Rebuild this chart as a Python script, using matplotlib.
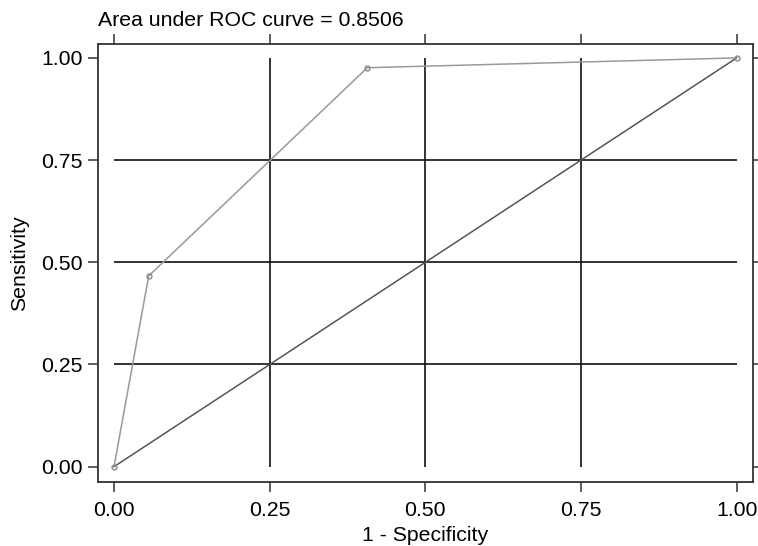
import matplotlib.pyplot as plt
import numpy as np

plt.rcParams['font.family'] = ['Liberation Sans', 'DejaVu Sans']

# ROC points
fpr = [0.0, 0.0557, 0.4068, 1.0]
tpr = [0.0, 0.4666, 0.976, 1.0]
auc = 0.8506

ticks = [0.0, 0.25, 0.5, 0.75, 1.0]
tick_labels = ['0.00', '0.25', '0.50', '0.75', '1.00']
grid_at = [0.25, 0.5, 0.75]

frame_col = '#333333'
fs = 15.3

fig = plt.figure(figsize=(7.58, 5.46), dpi=100)
ax = fig.add_axes([0.1293, 0.1178, 0.8637, 0.8016])

ax.set_xlim(-0.0257, 1.0257)
ax.set_ylim(-0.0367, 1.034)

# reference grid, only over the data range
ax.hlines(grid_at, 0, 1, color='#111111', lw=1.2, zorder=1)
ax.vlines(grid_at, 0, 1, color='#111111', lw=1.2, zorder=1)

# chance diagonal
ax.plot([0, 1], [0, 1], color='#555555', lw=1.1, zorder=2)

# ROC curve
ax.plot(fpr, tpr, color='#999999', lw=1.1, marker='o', ms=3.5,
        mfc='none', mec='#888888', mew=1.0, zorder=3)

ax.set_xticks(ticks)
ax.set_xticklabels(tick_labels)
ax.set_yticks(ticks)
ax.set_yticklabels(tick_labels)
ax.tick_params(direction='out', length=7, width=1.1, color=frame_col,
               labelsize=fs, top=True, right=True,
               labeltop=False, labelright=False)
ax.tick_params(axis='x', pad=7)
ax.tick_params(axis='y', pad=4)
for s in ax.spines.values():
    s.set_color(frame_col)
    s.set_linewidth(1.3)

ax.set_xlabel('1 - Specificity', fontsize=fs, labelpad=4)
ax.set_ylabel('Sensitivity', fontsize=fs, labelpad=9)
ax.set_title(f'Area under ROC curve = {auc:.4f}', fontsize=fs,
             loc='left', pad=13)

fig.savefig('out.png', dpi=100)
